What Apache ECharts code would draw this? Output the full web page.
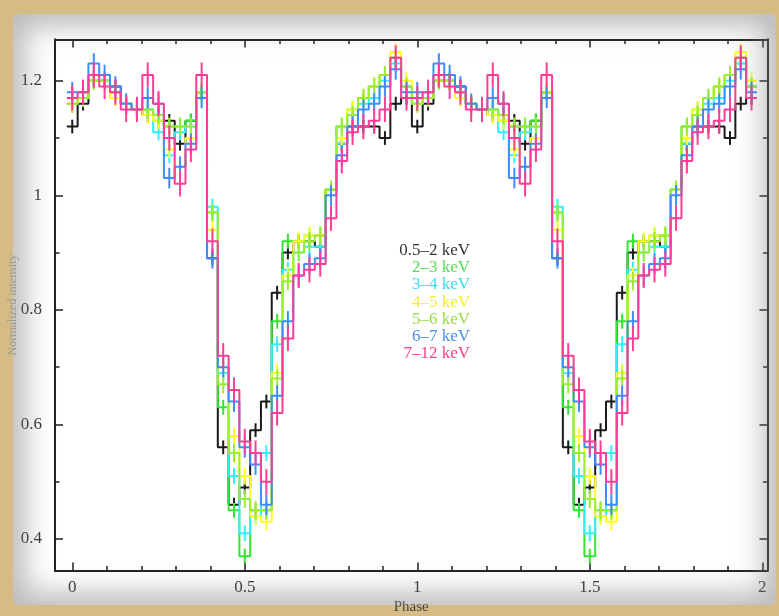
<!DOCTYPE html>
<html>
<head>
<meta charset="utf-8">
<script src="https://cdn.jsdelivr.net/npm/echarts@6/dist/echarts.min.js"></script>
<style>
  body { margin: 0; width: 779px; height: 616px; overflow: hidden; background: #d6bc84; position: relative; }
  #paper { position: absolute; left: 13px; top: 14px; width: 763px; height: 591px; background: #fff; border-radius: 6px; }
  #chart { position: absolute; left: 0; top: 0; width: 779px; height: 616px; filter: blur(0.4px); }
  #vignette { position: absolute; left: 13px; top: 14px; width: 763px; height: 591px; border-radius: 6px;
    box-shadow: inset 0 0 28px 12px rgba(130,130,130,0.55); pointer-events: none; }
</style>
</head>
<body>
<div id="paper"></div>
<div id="chart"></div>
<div id="vignette"></div>
<script>
// pulse profiles, 32 phase bins per cycle (bin centres at k/32), shown twice
var bands = ['0.5–2 keV', '2–3 keV', '3–4 keV', '4–5 keV', '5–6 keV', '6–7 keV', '7–12 keV'];

var rate_05_2 = [1.12,1.16,1.20,1.20,1.19,1.16,1.15,1.14,1.14,1.13,1.09,1.13,1.18,0.89,0.56,0.46,0.49,0.59,0.64,0.83,0.90,0.92,0.92,0.91,1.01,1.09,1.12,1.12,1.12,1.10,1.16,1.17];
var rate_2_3  = [1.16,1.17,1.20,1.20,1.18,1.16,1.15,1.15,1.13,1.12,1.12,1.13,1.18,0.97,0.63,0.45,0.37,0.45,0.45,0.78,0.92,0.92,0.93,0.93,1.01,1.12,1.15,1.17,1.19,1.21,1.24,1.19];
var rate_3_4  = [1.17,1.18,1.21,1.20,1.18,1.16,1.15,1.15,1.11,1.07,1.11,1.12,1.18,0.98,0.69,0.51,0.41,0.44,0.55,0.74,0.87,0.90,0.91,0.91,1.01,1.09,1.14,1.16,1.17,1.20,1.23,1.19];
var rate_4_5  = [1.16,1.17,1.20,1.20,1.17,1.16,1.15,1.14,1.13,1.08,1.05,1.10,1.18,0.94,0.70,0.58,0.51,0.44,0.43,0.69,0.86,0.92,0.93,0.93,1.01,1.10,1.15,1.17,1.19,1.21,1.25,1.20];
var rate_5_6  = [1.16,1.17,1.20,1.20,1.18,1.16,1.15,1.15,1.14,1.12,1.12,1.12,1.18,0.97,0.67,0.55,0.47,0.45,0.45,0.68,0.85,0.90,0.92,0.93,1.01,1.12,1.14,1.17,1.19,1.21,1.24,1.19];
var rate_6_7  = [1.18,1.18,1.23,1.21,1.19,1.16,1.15,1.17,1.16,1.03,1.05,1.09,1.17,0.89,0.70,0.64,0.56,0.53,0.46,0.65,0.78,0.86,0.88,0.89,1.00,1.07,1.12,1.15,1.16,1.19,1.22,1.18];
var rate_7_12 = [1.17,1.18,1.21,1.19,1.18,1.15,1.15,1.21,1.16,1.10,1.02,1.08,1.21,0.92,0.72,0.66,0.57,0.55,0.50,0.62,0.75,0.86,0.87,0.88,0.96,1.06,1.11,1.12,1.13,1.15,1.24,1.17];
var errors    = [0.012, 0.013, 0.014, 0.015, 0.016, 0.018, 0.022];

var xMajor = [0, 0.5, 1, 1.5, 2];
var xMinor = [0.1,0.2,0.3,0.4,0.6,0.7,0.8,0.9,1.1,1.2,1.3,1.4,1.6,1.7,1.8,1.9];
var yMajor = [0.4, 0.6, 0.8, 1, 1.2];
var yMinor = [0.5, 0.7, 0.9, 1.1];

var rates = [rate_05_2, rate_2_3, rate_3_4, rate_4_5, rate_5_6, rate_6_7, rate_7_12];
var colors = ['#1a1a1a', '#33e633', '#33f0ff', '#ffff22', '#99ee33', '#3f8cff', '#ff3d96'];
var labelColors = ['#333333', '#55dd55', '#33ddee', '#eeee33', '#99dd44', '#4d8def', '#ff3d8c'];

var NB = 32;
var serif = 'Liberation Serif';

var myChart = echarts.init(document.getElementById('chart'));

function xAxisDef(pos, ticks, len, labels) {
	return {
		type: 'value', position: pos, min: -0.05, max: 2.015, offset: 0,
		axisLine: { show: true, onZero: false, lineStyle: { color: '#222', width: 2 } },
		axisTick: { show: true, inside: true, length: len, customValues: ticks, lineStyle: { color: '#222', width: 1.5 } },
		axisLabel: labels ? { show: true, customValues: xMajor, margin: 9, fontFamily: serif, fontSize: 17, color: '#333' } : { show: false },
		splitLine: { show: false },
		name: labels ? 'Phase' : '', nameLocation: 'middle', nameGap: 29, nameMoveOverlap: false,
		nameTextStyle: { fontFamily: serif, fontSize: 15, color: '#444' }
	};
}
function yAxisDef(pos, ticks, len, labels) {
	return {
		type: 'value', position: pos, min: 0.345, max: 1.272, offset: 0,
		axisLine: { show: true, onZero: false, lineStyle: { color: '#222', width: 2 } },
		axisTick: { show: true, inside: true, length: len, customValues: ticks, lineStyle: { color: '#222', width: 1.5 } },
		axisLabel: labels ? { show: true, customValues: yMajor, margin: 13, fontFamily: serif, fontSize: 17, color: '#333' } : { show: false },
		splitLine: { show: false },
		name: labels ? 'Normalized intensity' : '', nameLocation: 'middle', nameGap: 36, nameMoveOverlap: false,
		nameTextStyle: { fontFamily: serif, fontSize: 12, color: '#a0a0a0' }
	};
}

var series = [];
rates.forEach(function(r, i) {
	var vals = r.concat(r); // two cycles
	var stepData = vals.map(function(v, k) { return [(k - 0.5) / NB, v]; });
	stepData.push([(vals.length - 0.5) / NB, vals[vals.length - 1]]);
	series.push({
		name: bands[i], type: 'line', step: 'end', data: stepData,
		symbol: 'none', lineStyle: { color: colors[i], width: 2 }, z: 2 + i, animation: false
	});
	series.push({
		name: bands[i], type: 'custom', z: 2 + i, animation: false,
		data: vals.map(function(v, k) { return [k / NB, v, errors[i]]; }),
		renderItem: function(params, api) {
			var x = api.value(0), y = api.value(1), e = api.value(2);
			var a = api.coord([x, y - e]), b = api.coord([x, y + e]);
			return { type: 'line', shape: { x1: a[0], y1: a[1], x2: b[0], y2: b[1] },
				style: { stroke: colors[i], lineWidth: 2 } };
		}
	});
});

var legendTexts = bands.map(function(b, i) {
	return { type: 'text', right: 309, top: 242 + i * 17.2,
		style: { text: b, fill: labelColors[i], font: '17px "Liberation Serif"', textAlign: 'right' } };
});

var option = {
	backgroundColor: 'transparent',
	grid: { left: 55, right: 11.5, top: 39.5, bottom: 45.5, outerBoundsMode: 'none', containLabel: false },
	xAxis: [
		xAxisDef('bottom', xMajor, 8, true),
		xAxisDef('bottom', xMinor, 4.5, false),
		xAxisDef('top', xMajor, 8, false),
		xAxisDef('top', xMinor, 4.5, false)
	],
	yAxis: [
		yAxisDef('left', yMajor, 8, true),
		yAxisDef('left', yMinor, 4.5, false),
		yAxisDef('right', yMajor, 8, false),
		yAxisDef('right', yMinor, 4.5, false)
	],
	graphic: legendTexts,
	series: series
};

myChart.setOption(option);
</script>
</body>
</html>
